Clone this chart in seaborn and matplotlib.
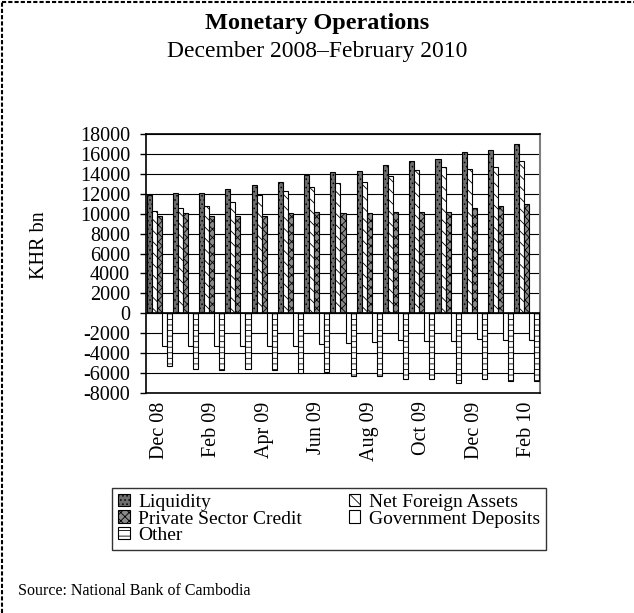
import numpy as np
import pandas as pd
import matplotlib.pyplot as plt
import seaborn as sns
from matplotlib.patches import Patch
from matplotlib.lines import Line2D

months = ["Dec 08", "Jan 09", "Feb 09", "Mar 09", "Apr 09", "May 09", "Jun 09", "Jul 09",
          "Aug 09", "Sep 09", "Oct 09", "Nov 09", "Dec 09", "Jan 10", "Feb 10"]
series_names = ["Liquidity", "Net Foreign Assets", "Private Sector Credit",
                "Government Deposits", "Other"]

liquidity = [11900, 12100, 12100, 12450, 12900, 13200, 13850, 14150, 14300, 14850,
             15250, 15480, 16230, 16400, 16970]
net_foreign_assets = [10300, 10550, 10750, 11150, 11870, 12230, 12630, 13050, 13200, 13800,
                      14350, 14730, 14520, 14730, 15300]
private_sector_credit = [9800, 10050, 9800, 9800, 9800, 10050, 10200, 10030, 10030, 10200,
                         10200, 10200, 10530, 10730, 10970]
government_deposits = [-3250, -3250, -3250, -3250, -3250, -3250, -3050, -3030, -2850, -2700,
                       -2750, -2750, -2550, -2700, -2700]
other = [-5330, -5550, -5730, -5550, -5730, -6030, -5850, -6280, -6270, -6630,
         -6630, -6970, -6630, -6800, -6800]

y_ticks = list(range(-8000, 18001, 2000))

# one style per series: face colour + hatch
faces = {"Liquidity": "#6e6e6e", "Net Foreign Assets": "white",
         "Private Sector Credit": "#8a8a8a", "Government Deposits": "white", "Other": "white"}
hatches = {"Liquidity": "....", "Net Foreign Assets": "\\\\\\", "Private Sector Credit": "xxxx",
           "Government Deposits": "", "Other": "---"}

df = pd.DataFrame({
    "month": months,
    "Liquidity": liquidity,
    "Net Foreign Assets": net_foreign_assets,
    "Private Sector Credit": private_sector_credit,
    "Government Deposits": government_deposits,
    "Other": other,
})
long_df = df.melt(id_vars="month", var_name="series", value_name="value")

sns.set_theme(style="white")
plt.rcParams["font.family"] = ["Liberation Serif", "DejaVu Serif"]
plt.rcParams["hatch.linewidth"] = 0.6
plt.rcParams["text.color"] = "black"
plt.rcParams["axes.labelcolor"] = "black"
plt.rcParams["xtick.color"] = "black"
plt.rcParams["ytick.color"] = "black"

fig = plt.figure(figsize=(6.34, 6.13), dpi=100)
ax = fig.add_axes([146 / 634, 1 - 393 / 613, 394 / 634, 259 / 613])

sns.barplot(data=long_df, x="month", y="value", hue="series", hue_order=series_names,
            order=months, palette=faces, saturation=1, edgecolor="black", linewidth=0.8,
            width=0.96, legend=False, ax=ax, zorder=3)

for container, name in zip(ax.containers, series_names):
    for bar in container:
        bar.set_hatch(hatches[name])

ax.set_ylim(-8000, 18000)
ax.set_yticks(y_ticks)
ax.set_yticklabels([str(v) for v in y_ticks], fontsize=14.5)
ax.set_xlim(-0.5, len(months) - 0.5)
ax.set_xticks(range(0, len(months), 2))
ax.set_xticklabels(months[::2], rotation=90, fontsize=14.5)
ax.tick_params(axis="x", length=0, pad=6)
ax.tick_params(axis="y", length=4.5, width=1, left=True, pad=7)
ax.set_xlabel("")
ax.set_ylabel("KHR bn", fontsize=14.5)
ax.yaxis.set_label_coords(-0.245, 0.57)

ax.yaxis.grid(True, color="black", linewidth=0.8)
ax.set_axisbelow(True)
ax.axhline(0, color="black", linewidth=1.2, zorder=4)
for side in ["left", "bottom", "top"]:
    ax.spines[side].set_color("black")
    ax.spines[side].set_linewidth(1.2)
ax.spines["right"].set_color("#808080")
ax.spines["right"].set_linewidth(1.5)

fig.text(0.5, 1 - 29 / 613, "Monetary Operations", ha="center", va="baseline",
         fontsize=17.5, fontweight="bold")
fig.text(0.5, 1 - 57 / 613, "December 2008\u2013February 2010", ha="center", va="baseline",
         fontsize=17)
fig.text(18 / 634, 1 - 595 / 613, "Source: National Bank of Cambodia", ha="left",
         va="baseline", fontsize=11.5)

handles = [Patch(facecolor=faces[n], edgecolor="black", hatch=hatches[n], linewidth=0.8)
           for n in series_names]
# matplotlib fills legend columns top-down, so reorder to read row by row
order = [0, 2, 4, 1, 3]
leg = fig.legend([handles[i] for i in order], [series_names[i] for i in order],
                 loc="upper left", bbox_to_anchor=(112 / 634, 1 - 488 / 613), ncol=2,
                 fontsize=14, frameon=True, fancybox=False, edgecolor="black",
                 handlelength=0.6, handleheight=0.6, handletextpad=0.45,
                 labelspacing=-0.02, columnspacing=2.4, borderpad=0.3, borderaxespad=0)
leg.get_frame().set_linewidth(1)

# dashed page border (top and left)
fig.add_artist(Line2D([0.003, 0.003], [0, 0.997], transform=fig.transFigure,
                      color="black", linewidth=1.5, linestyle=(0, (2, 1))))
fig.add_artist(Line2D([0.003, 1], [0.997, 0.997], transform=fig.transFigure,
                      color="black", linewidth=1.5, linestyle=(0, (2, 1))))

fig.savefig("out.png", dpi=100)
